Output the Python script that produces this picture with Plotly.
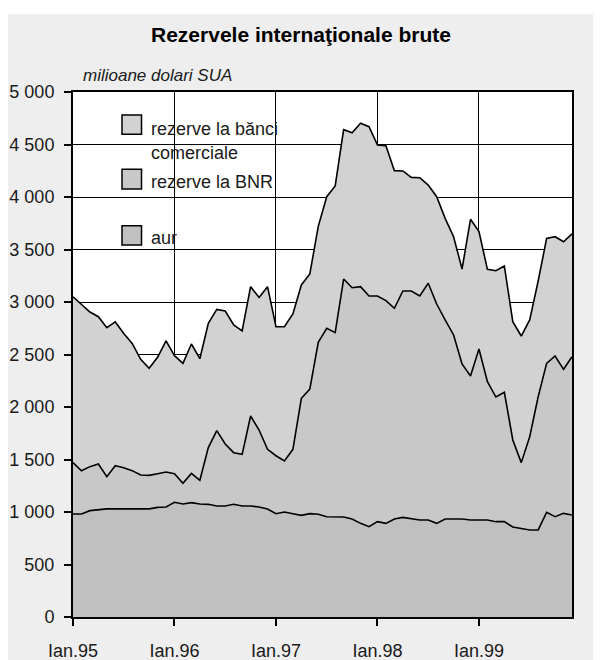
import plotly.graph_objects as go

# Monthly observations, Jan 1995 - Dec 1999 (million USD)
luni = [f"{an}-{m:02d}" for an in range(1995, 2000) for m in range(1, 13)]

# cumulative level: aur + BNR + bănci comerciale (total)
nivel_total = [3050, 2975, 2905, 2860, 2755, 2810, 2700, 2605, 2454, 2368,
               2473, 2629, 2489, 2416, 2600, 2460, 2797, 2930, 2914, 2781,
               2724, 3146, 3044, 3146, 2765, 2765, 2886, 3162, 3267, 3720,
               4003, 4105, 4641, 4612, 4702, 4670, 4495, 4489, 4251, 4248,
               4187, 4184, 4114, 4003, 3797, 3622, 3314, 3788, 3670, 3311,
               3298, 3343, 2813, 2676, 2829, 3200, 3606, 3622, 3574, 3648]
# cumulative level: aur + rezerve la BNR
nivel_bnr = [1470, 1393, 1432, 1457, 1336, 1441, 1422, 1394, 1352, 1349,
             1365, 1381, 1365, 1273, 1368, 1302, 1613, 1775, 1648, 1565,
             1549, 1914, 1781, 1597, 1536, 1486, 1597, 2083, 2171, 2616,
             2749, 2708, 3219, 3136, 3146, 3057, 3057, 3013, 2940, 3105,
             3105, 3057, 3178, 2981, 2829, 2686, 2410, 2295, 2552, 2241,
             2095, 2140, 1686, 1470, 1717, 2098, 2416, 2486, 2359, 2479]
# aur
aur = [981, 981, 1013, 1025, 1030, 1030, 1030, 1030, 1030, 1030,
       1044, 1048, 1092, 1076, 1089, 1076, 1073, 1057, 1057, 1073,
       1057, 1057, 1048, 1029, 984, 1000, 984, 968, 984, 978,
       955, 955, 952, 933, 892, 860, 908, 892, 933, 949,
       937, 924, 924, 892, 933, 933, 933, 924, 924, 924,
       908, 908, 857, 844, 829, 829, 997, 955, 987, 971]

culori = ["#d2d2d2", "#c8c8c8", "#c0c0c0"]

x_ticks = ["1995-01", "1996-01", "1997-01", "1998-01", "1999-01"]
x_labels = ["Ian.95", "Ian.96", "Ian.97", "Ian.98", "Ian.99"]
y_ticks = [0, 500, 1000, 1500, 2000, 2500, 3000, 3500, 4000, 4500, 5000]
y_labels = ["0", "500", "1 000", "1 500", "2 000", "2 500", "3 000",
            "3 500", "4 000", "4 500", "5 000"]

FONT = "Liberation Sans, Arial, sans-serif"
TXT = "#1a1a1a"

xi = list(range(len(luni)))
tickpos = [luni.index(t) for t in x_ticks]

fig = go.Figure()
fig.add_trace(go.Scatter(x=xi, y=aur, mode="lines", fill="tozeroy",
                         fillcolor=culori[2], line=dict(color="black", width=1.6),
                         name="aur", showlegend=False, hoverinfo="skip"))
fig.add_trace(go.Scatter(x=xi, y=nivel_bnr, mode="lines", fill="tonexty",
                         fillcolor=culori[1], line=dict(color="black", width=1.6),
                         name="rezerve la BNR", showlegend=False, hoverinfo="skip"))
fig.add_trace(go.Scatter(x=xi, y=nivel_total, mode="lines", fill="tonexty",
                         fillcolor=culori[0], line=dict(color="black", width=1.6),
                         name="rezerve la bănci comerciale", showlegend=False,
                         hoverinfo="skip"))

shapes = [
    # white top band
    dict(type="rect", xref="paper", yref="paper", x0=-0.2, x1=1.1,
         y0=1.1486, y1=1.17, fillcolor="white", line=dict(width=0), layer="below"),
    # legend box (white, hides gridlines)
    dict(type="rect", xref="paper", yref="paper", x0=0.014, x1=0.487,
         y0=0.56, y1=0.985, fillcolor="white", line=dict(width=0), layer="below"),
]
annotations = []
sq_y = [(0.9562, 0.9194), (0.8528, 0.8152), (0.7453, 0.7086)]
txt_y = [[0.9295, 0.8844], [0.8291], [0.7219]]
txt_lines = [["rezerve la bănci", "comerciale"], ["rezerve la BNR"], ["aur"]]
for i in range(3):
    shapes.append(dict(type="rect", xref="paper", yref="paper", x0=0.0982, x1=0.1373,
                       y0=sq_y[i][1], y1=sq_y[i][0], fillcolor=culori[i],
                       line=dict(color="black", width=1.5), layer="above"))
    for t, yy in zip(txt_lines[i], txt_y[i]):
        annotations.append(dict(text=t, xref="paper", yref="paper", x=0.1523, y=yy,
                                xanchor="left", yanchor="middle", showarrow=False,
                                font=dict(family=FONT, size=18, color=TXT)))

annotations.append(dict(text="<i>milioane dolari SUA</i>", xref="paper", yref="paper",
                        x=0.016, y=1.0305, xanchor="left", yanchor="middle",
                        showarrow=False, font=dict(family=FONT, size=17, color=TXT)))

fig.update_layout(
    width=601, height=660,
    margin=dict(l=65, r=37, t=84, b=51),
    paper_bgcolor="#eeeeee", plot_bgcolor="white",
    title=dict(text="<b>Rezervele internaţionale brute</b>", xref="container",
               yref="container", x=0.4875, y=0.959, xanchor="center", yanchor="middle",
               font=dict(family=FONT, size=21, color="black")),
    font=dict(family=FONT, size=18, color=TXT),
    shapes=shapes, annotations=annotations,
    xaxis=dict(range=[0, len(luni) - 1], tickvals=tickpos, ticktext=x_labels,
               automargin=False,
               showgrid=True, gridcolor="black", gridwidth=1,
               showline=True, linecolor="black", linewidth=2, mirror=True,
               ticks="outside", ticklen=7, tickcolor="black", tickwidth=1.5,
               ticklabelstandoff=9,
               zeroline=False, tickfont=dict(family=FONT, size=18, color=TXT)),
    yaxis=dict(range=[0, 5000], tickvals=y_ticks, ticktext=y_labels,
               automargin=False,
               showgrid=True, gridcolor="black", gridwidth=1,
               showline=True, linecolor="black", linewidth=2, mirror=True,
               ticks="outside", ticklen=7, tickcolor="black", tickwidth=1.5,
               ticklabelstandoff=6,
               zeroline=False, tickfont=dict(family=FONT, size=18, color=TXT)),
)

fig.write_html("out.html")
